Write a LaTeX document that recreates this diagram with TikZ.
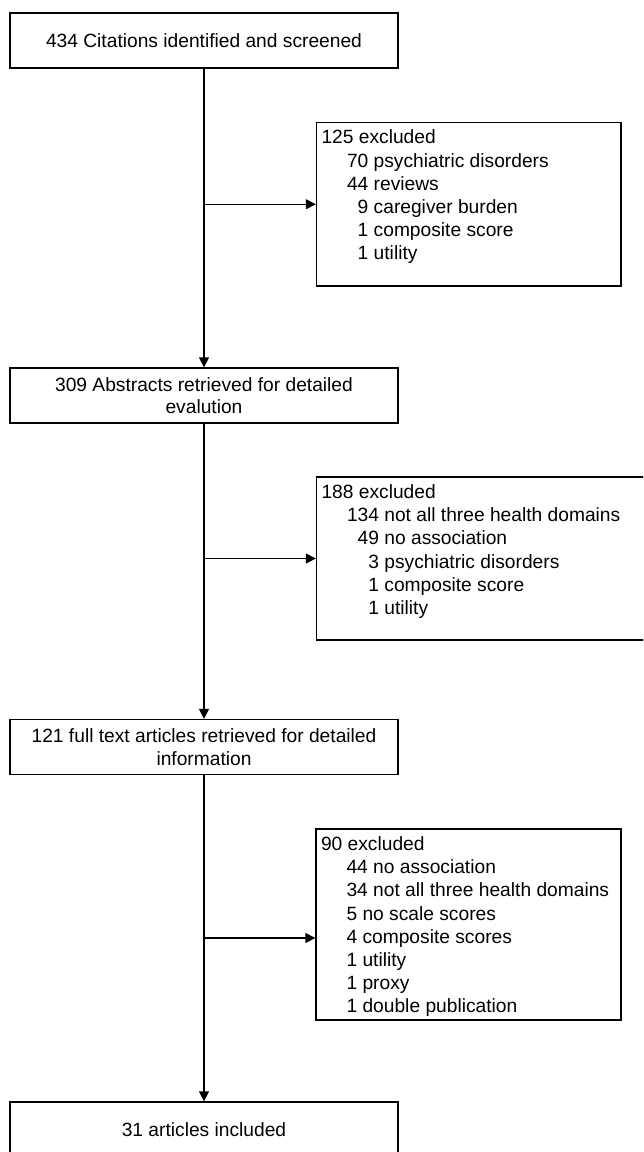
\documentclass[tikz,border=0pt]{standalone}
\usepackage{fontspec}
\setmainfont{Liberation Sans}
\usetikzlibrary{arrows.meta}
\newcommand\exind{\hspace*{25.5pt}}
\newcommand\dg{\hphantom{0}}
\begin{document}
\begin{tikzpicture}[x=1pt,y=-1pt,
  every node/.style={font=\fontsize{19.2}{22.5}\selectfont},
  mainbox/.style={draw,line width=1.3pt,minimum width=388pt,minimum height=55pt,align=center,inner sep=0pt},
  exbox/.style={draw,line width=1.3pt,inner sep=0pt},
  extext/.style={anchor=north west,inner sep=0pt,align=left,font=\fontsize{19.2}{23.2}\selectfont},
  conn/.style={line width=1.3pt,-{Triangle[length=10pt,width=10pt]}}]
\useasboundingbox (0,0) rectangle (643,1152);
\clip (0,0) rectangle (643,1152);
\node[mainbox] (n1) at (204,40.5) {434 Citations identified and screened};
\node[mainbox] (n2) at (204,395.5) {309 Abstracts retrieved for detailed\\evalution};
\node[mainbox] (n3) at (204,747) {121 full text articles retrieved for detailed\\information};
\node[mainbox] (n4) at (204,1129.5) {31 articles included};
\node[exbox,minimum width=304.5pt,minimum height=163.5pt] (e1) at (468.75,204.25) {};
\node[exbox,minimum width=343.5pt,minimum height=163pt] (e2) at (488.25,558.5) {};
\node[exbox,minimum width=305pt,minimum height=191pt] (e3) at (468.5,924.5) {};
\node[extext] (t1) at ([xshift=5.5pt,yshift=-8pt]e1.north west) {125 excluded\\
\exind 70 psychiatric disorders\\
\exind 44 reviews\\
\exind\dg 9 caregiver burden\\
\exind\dg 1 composite score\\
\exind\dg 1 utility};
\node[extext] (t2) at ([xshift=5.5pt,yshift=-8pt]e2.north west) {188 excluded\\
\exind 134 not all three health domains\\
\exind\dg 49 no association\\
\exind\dg\dg 3 psychiatric disorders\\
\exind\dg\dg 1 composite score\\
\exind\dg\dg 1 utility};
\node[extext] (t3) at ([xshift=5.5pt,yshift=-8pt]e3.north west) {90 excluded\\
\exind 44 no association\\
\exind 34 not all three health domains\\
\exind 5 no scale scores\\
\exind 4 composite scores\\
\exind 1 utility\\
\exind 1 proxy\\
\exind 1 double publication};
\coordinate (b1) at (204,204.25);
\coordinate (b2) at (204,558.5);
\coordinate (b3) at (204,938);
\draw[conn] (n1.south) -- (n2.north);
\draw[conn] (n2.south) -- (n3.north);
\draw[conn] (n3.south) -- (n4.north);
\draw[conn] (b1) -- (b1 -| e1.west);
\draw[conn] (b2) -- (b2 -| e2.west);
\draw[conn] (b3) -- (b3 -| e3.west);
\end{tikzpicture}
\end{document}
